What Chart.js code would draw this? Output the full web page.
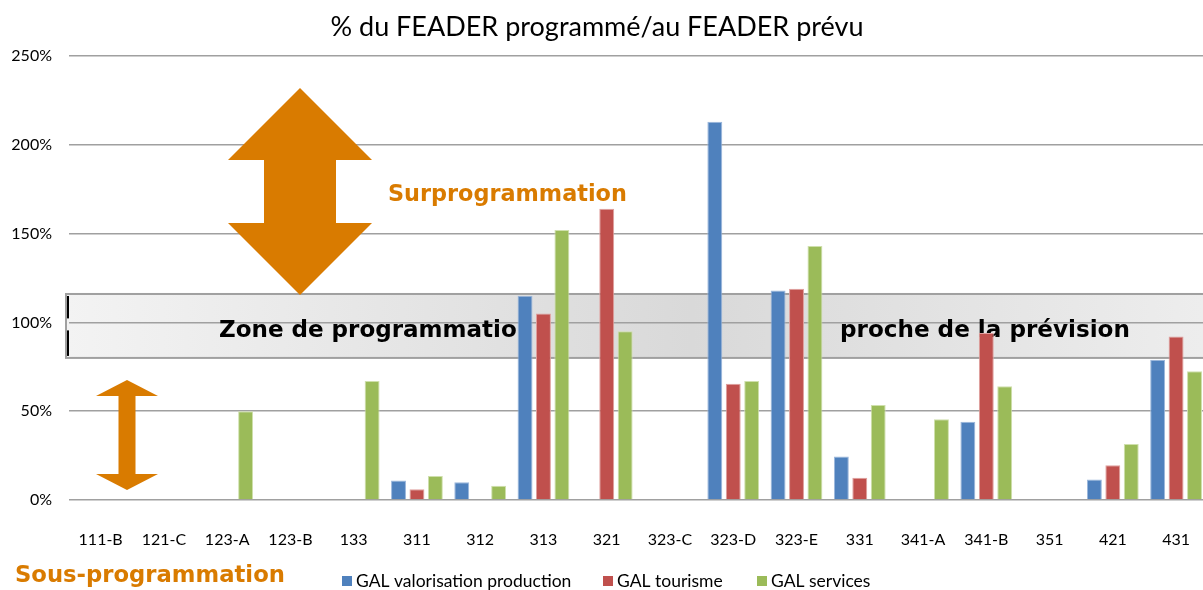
<!DOCTYPE html>
<html>
<head>
<meta charset="utf-8">
<script src="https://cdn.jsdelivr.net/npm/chart.js@4/dist/chart.umd.min.js"></script>
<style>
  html, body { margin: 0; padding: 0; background: #fff; overflow: hidden; }
  #wrap { width: 1203px; height: 590px; overflow: hidden; position: relative; }
</style>
</head>
<body>
<div id="wrap"><canvas id="chart" width="1212" height="590"></canvas></div>
<script>
// Data (% du FEADER programmé / prévu)
const CATEGORIES = ['111-B', '121-C', '123-A', '123-B', '133', '311', '312', '313', '321', '323-C', '323-D', '323-E', '331', '341-A', '341-B', '351', '421', '431'];
const SERIES_NAMES = ['GAL valorisation production', 'GAL tourisme', 'GAL services'];
const VALORISATION = [null, null, null, null, null, 11, 10, 115, null, null, 213, 118, 24.5, null, 44, null, 11.5, 79];
const TOURISME = [null, null, null, null, null, 6, null, 105, 164, null, 65.5, 119, 12.5, null, 94, null, 19.5, 92];
const SERVICES = [null, null, 50, null, 67, 13.5, 8, 152, 95, null, 67, 143, 53.5, 45.5, 64, null, 31.5, 72.5];
const Y_TICKS = [0, 50, 100, 150, 200, 250];
const ZONE = [80, 116]; // band "zone de programmation proche de la prévision"

const TITLE = '% du FEADER programmé/au FEADER prévu';
const ORANGE = '#D97B00';
const FONT = 'Lato, "Open Sans", sans-serif';
const DECO_FONT = '"DejaVu Sans", Lato, sans-serif';

// draw text stretched/shrunk to a target width by adjusting the font size
function fitText(ctx, text, x, y, width, weight, family, color) {
    ctx.font = `${weight} 20px ${family}`;
    const w = ctx.measureText(text).width;
    const size = 20 * width / w;
    ctx.font = `${weight} ${size}px ${family}`;
    ctx.fillStyle = color;
    ctx.textAlign = 'left';
    ctx.textBaseline = 'alphabetic';
    ctx.fillText(text, x, y);
}

function doubleArrow(ctx, cx, top, bottom, headW, headH, shaftW) {
    ctx.beginPath();
    ctx.moveTo(cx, top);
    ctx.lineTo(cx + headW / 2, top + headH);
    ctx.lineTo(cx + shaftW / 2, top + headH);
    ctx.lineTo(cx + shaftW / 2, bottom - headH);
    ctx.lineTo(cx + headW / 2, bottom - headH);
    ctx.lineTo(cx, bottom);
    ctx.lineTo(cx - headW / 2, bottom - headH);
    ctx.lineTo(cx - shaftW / 2, bottom - headH);
    ctx.lineTo(cx - shaftW / 2, top + headH);
    ctx.lineTo(cx - headW / 2, top + headH);
    ctx.closePath();
    ctx.fillStyle = ORANGE;
    ctx.fill();
}

const decorations = {
    id: 'decorations',
    beforeDraw(chart) {
        const { ctx, chartArea, scales } = chart;
        ctx.save();
        ctx.fillStyle = '#fff';
        ctx.fillRect(0, 0, chart.width, chart.height);
        // grey band behind the bars
        const left = chartArea.left - 2;
        const yTop = scales.y.getPixelForValue(ZONE[1]);
        const yBot = scales.y.getPixelForValue(ZONE[0]);
        const g = ctx.createLinearGradient(left, 0, 1203, 0);
        g.addColorStop(0, '#f3f3f3');
        g.addColorStop(0.55, '#d9d9d9');
        g.addColorStop(1, '#ededed');
        ctx.fillStyle = g;
        ctx.fillRect(left, yTop, chart.width - left + 4, yBot - yTop);
        ctx.strokeStyle = '#a0a0a0';
        ctx.lineWidth = 2;
        ctx.strokeRect(left - 1, yTop, chart.width, yBot - yTop);
        ctx.restore();
    },
    beforeDatasetsDraw(chart) {
        const { ctx, chartArea, scales } = chart;
        const left = chartArea.left - 2;
        const yTop = scales.y.getPixelForValue(ZONE[1]);
        const yBot = scales.y.getPixelForValue(ZONE[0]);
        const y100 = scales.y.getPixelForValue(100);
        ctx.save();
        ctx.fillStyle = '#000';
        ctx.fillRect(left, yTop + 2, 2, y100 - yTop - 6);
        ctx.fillRect(left, y100 + 8, 2, yBot - y100 - 10);
        fitText(ctx, 'Zone de programmatio', 219, 337, 298, 'bold', DECO_FONT, '#000');
        fitText(ctx, 'proche de la prévision', 840, 337, 290, 'bold', DECO_FONT, '#000');
        ctx.restore();
    },
    afterDraw(chart) {
        const { ctx } = chart;
        ctx.save();
        doubleArrow(ctx, 300, 88, 295, 144, 72, 72);
        doubleArrow(ctx, 127, 380, 490, 62, 16, 17);
        fitText(ctx, 'Surprogrammation', 388, 201, 239, 'bold', DECO_FONT, ORANGE);
        fitText(ctx, 'Sous-programmation', 15, 582, 270, 'bold', DECO_FONT, ORANGE);

        // title
        ctx.font = `27px ${FONT}`;
        ctx.fillStyle = '#000';
        ctx.textAlign = 'center';
        ctx.textBaseline = 'middle';
        ctx.fillText(TITLE, 597, 27);

        // legend
        ctx.font = `17.5px ${FONT}`;
        ctx.textAlign = 'left';
        const xs = [342, 603, 757];
        chart.data.datasets.forEach((ds, i) => {
            ctx.fillStyle = ds.backgroundColor;
            ctx.fillRect(xs[i], 576, 10, 10);
            ctx.fillStyle = '#000';
            ctx.fillText(ds.label, xs[i] + 14, 581);
        });
        ctx.restore();
    }
};

new Chart(document.getElementById('chart'), {
    type: 'bar',
    data: {
        labels: CATEGORIES,
        datasets: [
            { label: SERIES_NAMES[0], data: VALORISATION, backgroundColor: '#4F81BD', borderColor: '#9bb7dc', borderWidth: 1 },
            { label: SERIES_NAMES[1], data: TOURISME, backgroundColor: '#C0504D', borderColor: '#e0a09e', borderWidth: 1 },
            { label: SERIES_NAMES[2], data: SERVICES, backgroundColor: '#9BBB59', borderColor: '#cfe0ac', borderWidth: 1 }
        ]
    },
    options: {
        responsive: false,
        animation: false,
        events: [],
        categoryPercentage: 0.874,
        barPercentage: 0.81,
        layout: { padding: { top: 56, bottom: 30, left: 0, right: 0 } },
        scales: {
            x: {
                grid: { display: false },
                border: { display: false },
                ticks: { color: '#000', font: { family: FONT, size: 16 }, padding: 22, maxRotation: 0, autoSkip: false },
                afterFit: (s) => { s.height = 60; }
            },
            y: {
                min: 0, max: 250,
                afterBuildTicks: (s) => { s.ticks = Y_TICKS.map(v => ({ value: v })); },
                grid: { color: '#a0a0a0', lineWidth: 1.5, drawTicks: false },
                border: { display: false },
                ticks: { color: '#000', font: { family: FONT, size: 16 }, padding: 17, callback: v => v + '%' },
                afterFit: (s) => { s.width = 69; }
            }
        },
        plugins: {
            legend: { display: false },
            title: { display: false },
            tooltip: { enabled: false }
        }
    },
    plugins: [decorations]
});
</script>
</body>
</html>
